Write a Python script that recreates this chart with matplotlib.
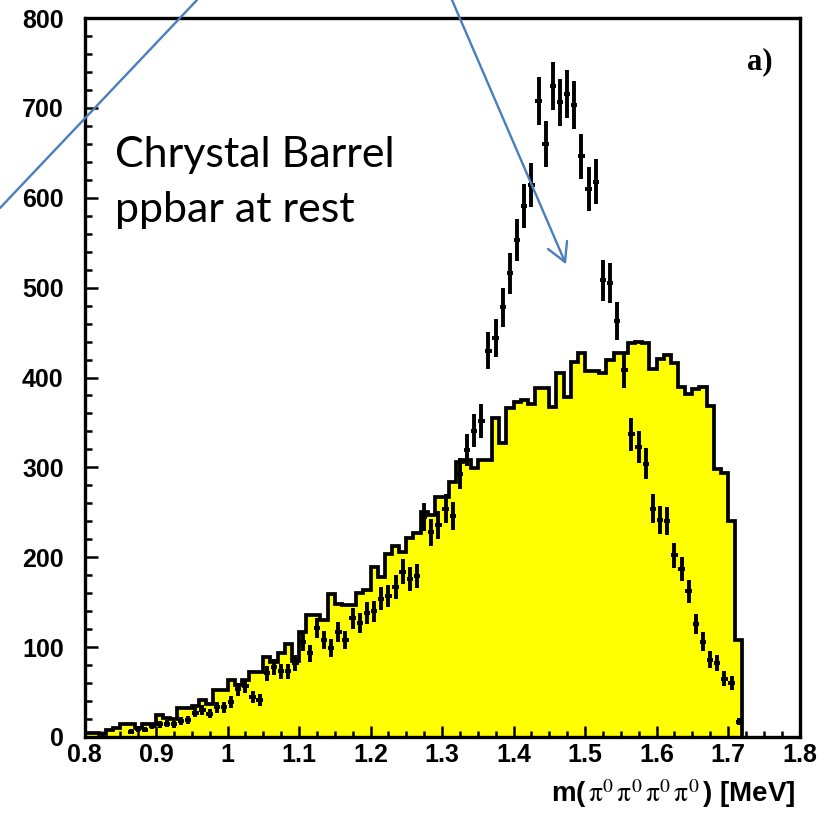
import numpy as np
import matplotlib
matplotlib.use("Agg")
import matplotlib.pyplot as plt
from matplotlib.lines import Line2D
from matplotlib.ticker import MultipleLocator

plt.rcParams["mathtext.fontset"] = "stix"

# Monte Carlo phase-space histogram, 0.01 wide bins from 0.80 to 1.72
bin_edges_start = 0.80
bin_width = 0.01
mc_counts = [
    5, 5, 3, 8, 10, 14, 14, 10, 14, 14,
    25, 21, 20, 32, 32, 35, 41, 37, 52, 52,
    63, 58, 63, 72, 72, 89, 84, 93, 103, 85,
    117, 136, 136, 130, 159, 148, 147, 147, 160, 164,
    189, 178, 204, 212, 206, 221, 227, 250, 247, 267,
    267, 284, 306, 308, 299, 308, 308, 355, 327, 366,
    373, 375, 370, 388, 388, 367, 405, 378, 417, 427,
    407, 407, 405, 420, 427, 427, 438, 439, 438, 409,
    421, 425, 416, 389, 382, 387, 389, 368, 298, 294,
    240, 108,
]

# Measured 4 pi0 invariant mass spectrum (bin centres, counts)
data_mass = [
    0.865, 0.875, 0.885, 0.895, 0.905, 0.915, 0.925, 0.935, 0.945, 0.955,
    0.965, 0.975, 0.985, 0.995, 1.005, 1.015, 1.025, 1.035, 1.045, 1.055,
    1.065, 1.075, 1.085, 1.095, 1.105, 1.115, 1.125, 1.135, 1.145, 1.155,
    1.165, 1.175, 1.185, 1.195, 1.205, 1.215, 1.225, 1.235, 1.245, 1.255,
    1.265, 1.275, 1.285, 1.295, 1.305, 1.315, 1.325, 1.335, 1.345, 1.355,
    1.365, 1.375, 1.385, 1.395, 1.405, 1.415, 1.425, 1.435, 1.445, 1.455,
    1.465, 1.475, 1.485, 1.495, 1.505, 1.515, 1.525, 1.535, 1.545, 1.555,
    1.565, 1.575, 1.585, 1.595, 1.605, 1.615, 1.625, 1.635, 1.645, 1.655,
    1.665, 1.675, 1.685, 1.695, 1.705, 1.715,
]
data_counts = [
    6, 9, 8, 12, 14, 15, 14, 18, 19, 27,
    30, 26, 33, 33, 39, 53, 57, 44, 41, 71,
    78, 73, 73, 82, 106, 93, 121, 108, 99, 117,
    108, 132, 127, 138, 140, 154, 157, 167, 184, 176,
    179, 245, 228, 236, 254, 246, 293, 319, 341, 352,
    430, 444, 478, 516, 553, 591, 614, 708, 660, 724,
    706, 715, 703, 646, 610, 618, 508, 505, 463, 408,
    337, 323, 304, 254, 241, 240, 202, 187, 162, 126,
    106, 86, 82, 65, 60, 17,
]

x_ticks = [0.8, 0.9, 1.0, 1.1, 1.2, 1.3, 1.4, 1.5, 1.6, 1.7, 1.8]
x_tick_labels = ["0.8", "0.9", "1", "1.1", "1.2", "1.3", "1.4", "1.5", "1.6", "1.7", "1.8"]
y_ticks = [0, 100, 200, 300, 400, 500, 600, 700, 800]

W, H = 838, 814
fig = plt.figure(figsize=(W / 100, H / 100), dpi=100)
ax = fig.add_axes([84.5 / W, 1 - 737 / H, 715 / W, 719 / H])

edges = bin_edges_start + bin_width * np.arange(len(mc_counts) + 1)
ax.stairs(mc_counts, edges, fill=True, color="#FFFF00", zorder=1)
ax.stairs(mc_counts, edges, color="black", linewidth=2.7, zorder=2)

counts = np.array(data_counts, dtype=float)
ax.errorbar(data_mass, counts, yerr=np.sqrt(counts), xerr=0.0045,
            fmt="none", ecolor="black", elinewidth=2.8, capsize=0, zorder=3)

ax.set_xlim(0.8, 1.8)
ax.set_ylim(0, 800)
ax.set_xticks(x_ticks)
ax.set_xticklabels(x_tick_labels)
ax.set_yticks(y_ticks)
ax.xaxis.set_minor_locator(MultipleLocator(0.025))
ax.yaxis.set_minor_locator(MultipleLocator(20))

for s in ax.spines.values():
    s.set_linewidth(2.4)
    s.set_zorder(5)

ax.tick_params(axis="both", which="both", direction="in", top=False, right=False, width=1.8)
ax.tick_params(axis="y", which="major", length=9.5, pad=15)
ax.tick_params(axis="y", which="minor", length=5)
ax.tick_params(axis="x", which="major", length=8, pad=4)
ax.tick_params(axis="x", which="minor", length=4.5)
for lab in ax.get_xticklabels() + ax.get_yticklabels():
    lab.set_fontfamily("Liberation Sans")
    lab.set_fontweight("bold")
    lab.set_fontsize(18)

ax.text(0.995, -0.0905,
        r"m($\,\mathrm{\pi}^0\,\mathrm{\pi}^0\,\mathrm{\pi}^0\,\mathrm{\pi}^0\,$) [MeV]",
        transform=ax.transAxes, ha="right", va="baseline", fontsize=20,
        fontweight="bold", family="Liberation Sans")

ax.text(0.945, 0.939, "a)", transform=ax.transAxes, ha="center", va="center",
        fontsize=22, fontweight="bold", family="Liberation Serif")

fig.text(115 / W, 1 - 167 / H, "Chrystal Barrel", ha="left",
         va="baseline", fontsize=31, family="Lato", color="black")
fig.text(115 / W, 1 - 222 / H, "ppbar at rest", ha="left",
         va="baseline", fontsize=31, family="Lato", color="black")

# annotation lines drawn in figure pixel space
blue = "#4A7EBB"


def pix_line(xs, ys):
    fig.add_artist(Line2D([x / W for x in xs], [1 - y / H for y in ys],
                          color=blue, linewidth=1.7, solid_capstyle="round",
                          transform=fig.transFigure, zorder=10))


pix_line([0, 197], [208, 0])
pix_line([452, 565], [0, 262])
pix_line([548, 565, 567], [249, 262, 241])

fig.savefig("out.png", dpi=100)
